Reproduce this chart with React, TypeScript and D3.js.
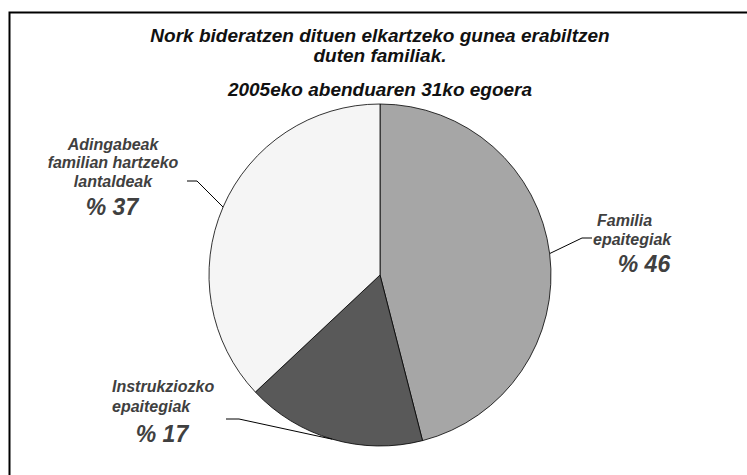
import React from "react";
import * as d3 from "d3";

const titleLines = [
  "Nork bideratzen dituen elkartzeko gunea erabiltzen",
  "duten familiak.",
];
const subtitle = "2005eko abenduaren 31ko egoera";
const categories = [
  "Familia epaitegiak",
  "Instrukziozko epaitegiak",
  "Adingabeak familian hartzeko lantaldeak",
];
const values = [46, 17, 37];
const percentLabels = ["% 46", "% 17", "% 37"];
const sliceColors = ["#a6a6a6", "#595959", "#f5f5f5"];

const W = 747;
const H = 475;
const cx = 380;
const cy = 275;
const R = 171;

export default function App() {
  const pie = d3.pie<number>().sort(null).value((d) => d);
  const arcs = pie(values);
  const arc = d3.arc<d3.PieArcDatum<number>>().innerRadius(0).outerRadius(R);
  const edge = (a: d3.PieArcDatum<number>) => {
    const m = (a.startAngle + a.endAngle) / 2;
    return [cx + R * Math.sin(m), cy - R * Math.cos(m)];
  };

  const labelColor = "#404040";
  const font = "'Liberation Sans', Arial, sans-serif";

  const layouts = [
    {
      lines: [
        { t: "Familia", x: 597, y: 226, anchor: "start" },
        { t: "epaitegiak", x: 593, y: 245, anchor: "start" },
      ],
      pct: { x: 644, y: 272 },
      leader: [[582, 238], [592, 238]],
    },
    {
      lines: [
        { t: "Instrukziozko", x: 112, y: 392, anchor: "start" },
        { t: "epaitegiak", x: 112, y: 412, anchor: "start" },
      ],
      pct: { x: 162, y: 442 },
      leader: [[239, 419], [226, 419]],
    },
    {
      lines: [
        { t: "Adingabeak", x: 113, y: 150, anchor: "middle" },
        { t: "familian hartzeko", x: 113, y: 168, anchor: "middle" },
        { t: "lantaldeak", x: 113, y: 187, anchor: "middle" },
      ],
      pct: { x: 112, y: 215 },
      leader: [[197, 181], [187, 181]],
    },
  ];

  return (
    <svg width={W} height={H} style={{ display: "block", position: "absolute", left: 0, top: 0 }}>
      <rect x={0} y={0} width={W} height={H} fill="#ffffff" />
      <rect x={9.5} y={12.5} width={W + 20} height={H + 20} fill="none" stroke="#000" strokeWidth={2} />
      <g fontFamily={font} fontWeight="bold" fontStyle="italic" fill="#111" textAnchor="middle" fontSize={19}>
        <text x={380} y={42}>{titleLines[0]}</text>
        <text x={380} y={62}>{titleLines[1]}</text>
        <text x={380} y={96}>{subtitle}</text>
      </g>
      <g transform={`translate(${cx},${cy})`}>
        {arcs.map((a, i) => (
          <path key={categories[i]} d={arc(a) || ""} fill={sliceColors[i]} stroke="#000" strokeWidth={0.8} />
        ))}
      </g>
      {arcs.map((a, i) => {
        const L = layouts[i];
        const e = edge(a);
        const pts = [e, L.leader[0], L.leader[1]];
        return (
          <g key={"l" + i}>
            <polyline
              points={pts.map((p) => p.join(",")).join(" ")}
              fill="none"
              stroke="#000"
              strokeWidth={1}
            />
            <g fontFamily={font} fontWeight="bold" fontStyle="italic" fill={labelColor}>
              {L.lines.map((ln) => (
                <text key={ln.t} x={ln.x} y={ln.y} fontSize={16} textAnchor={ln.anchor as any}>
                  {ln.t}
                </text>
              ))}
              <text x={L.pct.x} y={L.pct.y} fontSize={23} textAnchor="middle">
                {percentLabels[i]}
              </text>
            </g>
          </g>
        );
      })}
    </svg>
  );
}
